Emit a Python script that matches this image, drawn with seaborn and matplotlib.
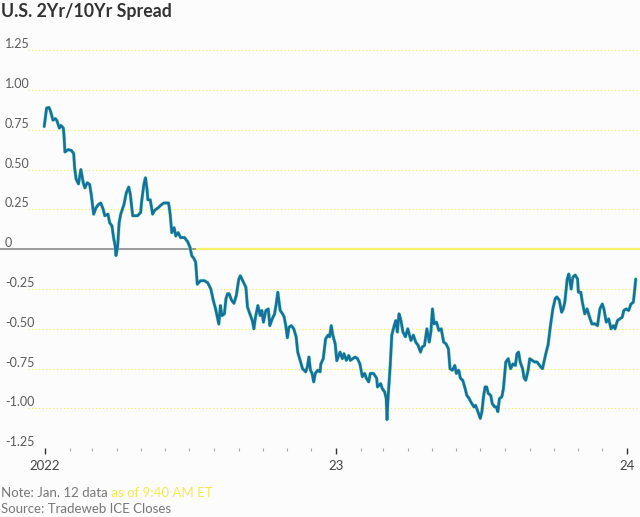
import matplotlib
matplotlib.use("Agg")
import matplotlib.pyplot as plt
import matplotlib.dates as mdates
import numpy as np
import pandas as pd
import seaborn as sns

# ---- data (days since 2022-01-01, spread in percentage points) ----
days = [-1, 2, 5, 7, 10, 13, 15, 18, 20, 23, 24, 25, 29, 33, 36, 37, 39, 42, 45, 48,
        50, 53, 56, 58, 61, 64, 67, 70, 73, 75, 79, 81, 84, 86, 88, 89, 91, 93, 95, 99,
        102, 105, 107, 110, 114, 116, 120, 121, 124, 126, 128, 129, 132, 135, 137, 139, 142, 145, 149, 153,
        155, 157, 159, 162, 164, 167, 170, 175, 179, 182, 184, 187, 189, 191, 195, 200, 204, 206, 208, 211,
        214, 218, 220, 222, 225, 227, 229, 231, 234, 237, 240, 243, 245, 248, 250, 252, 254, 257, 260, 262,
        264, 267, 270, 272, 274, 277, 280, 282, 285, 288, 290, 292, 295, 298, 300, 302, 304, 306, 309, 312,
        315, 317, 320, 323, 327, 329, 331, 333, 335, 337, 339, 342, 345, 346, 349, 352, 355, 357, 359, 361,
        364, 366, 370, 373, 375, 378, 381, 383, 386, 389, 392, 395, 398, 401, 403, 406, 408, 412, 416, 417,
        421, 423, 426, 428, 429, 430, 433, 435, 438, 440, 442, 444, 446, 449, 452, 455, 459, 462, 465, 468,
        471, 473, 476, 479, 482, 484, 486, 488, 491, 494, 497, 500, 503, 506, 508, 511, 514, 516, 519, 521,
        524, 527, 529, 532, 534, 538, 540, 543, 546, 548, 550, 552, 554, 556, 559, 561, 564, 566, 568, 570,
        573, 575, 578, 581, 584, 587, 590, 592, 594, 596, 599, 601, 603, 606, 608, 611, 614, 617, 619, 622,
        624, 628, 631, 634, 637, 640, 642, 645, 648, 650, 652, 655, 657, 659, 660, 662, 665, 668, 669, 672,
        674, 677, 680, 683, 686, 690, 693, 696, 699, 701, 704, 707, 710, 713, 715, 718, 721, 724, 726, 729,
        732, 735, 738, 741]
spread = [0.77, 0.886, 0.89, 0.865, 0.81, 0.82, 0.806, 0.76, 0.777, 0.76, 0.70, 0.61, 0.625, 0.62, 0.60, 0.52, 0.44, 0.41, 0.50, 0.417,
          0.385, 0.417, 0.406, 0.344, 0.22, 0.26, 0.28, 0.29, 0.25, 0.21, 0.22, 0.167, 0.146, 0.073, 0.02, -0.04, 0.01, 0.167, 0.22, 0.28,
          0.354, 0.39, 0.344, 0.21, 0.21, 0.21, 0.23, 0.29, 0.406, 0.448, 0.375, 0.31, 0.31, 0.22, 0.24, 0.25, 0.26, 0.275, 0.29, 0.29,
          0.29, 0.22, 0.104, 0.135, 0.083, 0.104, 0.073, 0.073, 0.046, 0.01, -0.04, -0.06, -0.083, -0.22, -0.198, -0.198, -0.21, -0.23, -0.25, -0.32,
          -0.375, -0.47, -0.354, -0.417, -0.406, -0.31, -0.28, -0.28, -0.32, -0.34, -0.29, -0.19, -0.167, -0.198, -0.22, -0.24, -0.364, -0.406, -0.448, -0.50,
          -0.427, -0.354, -0.417, -0.385, -0.458, -0.385, -0.375, -0.48, -0.4375, -0.406, -0.344, -0.27, -0.385, -0.406, -0.427, -0.48, -0.556, -0.49, -0.48, -0.50,
          -0.55, -0.646, -0.698, -0.75, -0.77, -0.74, -0.677, -0.76, -0.78, -0.833, -0.78, -0.76, -0.77, -0.72, -0.6875, -0.5625, -0.54, -0.55, -0.48, -0.54,
          -0.594, -0.70, -0.646, -0.6875, -0.656, -0.698, -0.667, -0.698, -0.6875, -0.677, -0.6875, -0.72, -0.80, -0.78, -0.81, -0.833, -0.78, -0.78, -0.81, -0.865,
          -0.844, -0.875, -0.896, -0.9375, -1.07, -0.958, -0.73, -0.54, -0.48, -0.448, -0.52, -0.406, -0.4375, -0.52, -0.55, -0.50, -0.573, -0.54, -0.583, -0.604,
          -0.646, -0.615, -0.604, -0.50, -0.583, -0.52, -0.375, -0.469, -0.458, -0.51, -0.50, -0.583, -0.594, -0.625, -0.75, -0.76, -0.73, -0.78, -0.76, -0.81,
          -0.823, -0.875, -0.917, -0.9375, -0.958, -0.99, -0.98, -1.02, -1.0625, -1.02, -0.927, -0.865, -0.865, -0.906, -0.917, -0.97, -0.99, -0.99, -1.02, -0.9375,
          -0.927, -0.875, -0.708, -0.6875, -0.75, -0.72, -0.73, -0.656, -0.646, -0.708, -0.75, -0.81, -0.823, -0.76, -0.6875, -0.698, -0.708, -0.708, -0.72, -0.74,
          -0.75, -0.66, -0.60, -0.48, -0.375, -0.31, -0.30, -0.32, -0.396, -0.375, -0.333, -0.1875, -0.156, -0.22, -0.25, -0.177, -0.1625, -0.1875, -0.27, -0.27,
          -0.333, -0.406, -0.375, -0.427, -0.469, -0.469, -0.48, -0.375, -0.344, -0.375, -0.458, -0.4375, -0.50, -0.48, -0.50, -0.448, -0.4375, -0.427, -0.385, -0.375,
          -0.385, -0.344, -0.333, -0.1875]

y_ticks = [1.25, 1.00, 0.75, 0.50, 0.25, 0, -0.25, -0.50, -0.75, -1.00, -1.25]
y_tick_labels = ["1.25", "1.00", "0.75", "0.50", "0.25", "0", "-0.25", "-0.50", "-0.75", "-1.00", "-1.25"]
x_tick_years = [2022, 2023, 2024]
x_tick_labels = ["2022", "23", "24"]

title = "U.S. 2Yr/10Yr Spread"
note_a = "Note: Jan. 12 data"
note_b = " as of 9:40 AM ET"
source = "Source: Tradeweb ICE Closes"

df = pd.DataFrame({
    "date": pd.Timestamp("2022-01-01") + pd.to_timedelta(days, unit="D"),
    "spread": spread,
})

# ---- style ----
sns.set_theme(style="white")
FONT = ["Lato", "DejaVu Sans"]
plt.rcParams["font.family"] = FONT
BG = "#fcfcfd"
GRID = "#f4ee5c"
TXT = "#5a5a5a"
LINE = "#14709f"

W, H = 640, 517
fig = plt.figure(figsize=(W / 100, H / 100), dpi=100, facecolor=BG)
ax_left, ax_right = 28, 640
ax_top, ax_bot = 34.15, 448.3
ax = fig.add_axes([ax_left / W, 1 - ax_bot / H, (ax_right - ax_left) / W, (ax_bot - ax_top) / H])
ax.set_facecolor(BG)

# x scale: Jan 1 2022 at px 45, Jan 1 2024 at px 627
d0 = pd.Timestamp("2022-01-01")
dpp = 730 / (627 - 45)
ax.set_xlim(d0 - pd.Timedelta(days=(45 - ax_left) * dpp), d0 + pd.Timedelta(days=(ax_right - 45) * dpp))
ax.set_ylim(-1.25, 1.35)

# gridlines
for v in y_ticks:
    if v == 0:
        continue
    ax.axhline(v, color=GRID, lw=0.8, ls=(0, (1, 2.2)), zorder=1)
# zero line: grey on the left part, yellow on the rest
split = (197 - ax_left) / (ax_right - ax_left)
ax.axhline(0, xmin=-ax_left / (ax_right - ax_left), xmax=split, color="#9a9a9a", lw=1.4, zorder=1.5, clip_on=False)
ax.axhline(0, xmin=split, xmax=1, color="#f7f26a", lw=1.6, zorder=1.5)

# series: light highlight underneath, then main line
sns.lineplot(data=df, x="date", y="spread", ax=ax, color="#8fe3b4", lw=2.5, zorder=2, legend=False)
sns.lineplot(data=df, x="date", y="spread", ax=ax, color=LINE, lw=1.85, zorder=3, legend=False)
ax.set_xlabel("")
ax.set_ylabel("")

for s in ax.spines.values():
    s.set_visible(False)

# y ticks as labels above the gridlines
ax.set_yticks(y_ticks)
ax.set_yticklabels(y_tick_labels)
ax.tick_params(axis="y", length=0, pad=(ax_left - 5) * 0.72, labelsize=9, labelcolor=TXT)
for lbl in ax.get_yticklabels():
    lbl.set_horizontalalignment("left")
    lbl.set_verticalalignment("bottom")

# x ticks
ax.set_xticks([pd.Timestamp(f"{y}-01-01") for y in x_tick_years])
ax.set_xticklabels(x_tick_labels)
ax.xaxis.set_minor_locator(mdates.MonthLocator())
ax.tick_params(axis="x", which="major", length=4.5, width=1.0, color="#333333", pad=4,
               labelsize=9.5, labelcolor="#444444", bottom=True, direction="out")
ax.tick_params(axis="x", which="minor", length=2, width=0.8, color="#aaaaaa", bottom=True, direction="out")

# texts
fig.text(1 / W, 1 - 12 / H, title, ha="left", va="center", fontsize=12.8, fontweight="bold", color="#333333")
ta = fig.text(1 / W, 1 - 493 / H, note_a, ha="left", va="center", fontsize=9.5, color="#777777")
fig.canvas.draw()
bb = ta.get_window_extent()
fig.text(bb.x1 / W, 1 - 493 / H, note_b, ha="left", va="center", fontsize=9.5, color="#f2ea55")
fig.text(1 / W, 1 - 509 / H, source, ha="left", va="center", fontsize=9.5, color="#777777")

fig.savefig("out.png", dpi=100, facecolor=BG)
